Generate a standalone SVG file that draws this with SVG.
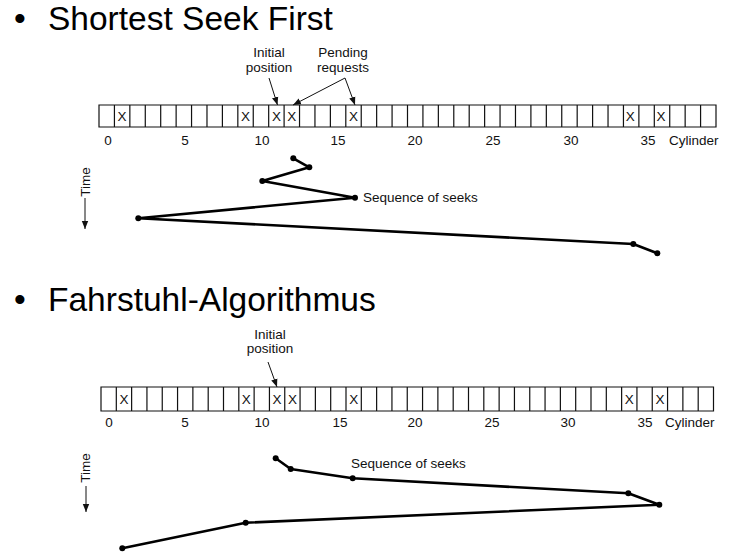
<svg xmlns="http://www.w3.org/2000/svg" width="743" height="558" viewBox="0 0 743 558">
<defs>
<style>
.title{font-family:"Liberation Sans",Arial,sans-serif;font-size:33.5px;fill:#000}
.lbl{font-family:"Liberation Sans",Arial,sans-serif;font-size:13.5px;fill:#111}
.mid{text-anchor:middle}
.cells{fill:none;stroke:#111;stroke-width:1.2}
.ptr{stroke:#111;stroke-width:1;fill:none}
.seek{stroke:#000;stroke-width:2.6;fill:none;stroke-linejoin:round;stroke-linecap:round}
.dot{fill:#000}
</style>
<marker id="ah" markerUnits="userSpaceOnUse" markerWidth="10" markerHeight="8" refX="8" refY="4" orient="auto">
<path d="M0,0.8 L8,4 L0,7.2 z" fill="#111"/>
</marker>
</defs>
<rect width="743" height="558" fill="#fff"/>

<g id="title-ssf">
<text class="title" x="14" y="30">•</text>
<text class="title" x="48" y="30">Shortest Seek First</text>
</g>

<g id="cylinders-ssf">
<path class="cells" d="M99,105H716V127H99Z M114.43,105V127 M129.85,105V127 M145.28,105V127 M160.7,105V127 M176.13,105V127 M191.55,105V127 M206.98,105V127 M222.4,105V127 M237.83,105V127 M253.25,105V127 M268.68,105V127 M284.1,105V127 M299.53,105V127 M314.95,105V127 M330.38,105V127 M345.8,105V127 M361.23,105V127 M376.65,105V127 M392.08,105V127 M407.5,105V127 M422.93,105V127 M438.35,105V127 M453.78,105V127 M469.2,105V127 M484.63,105V127 M500.05,105V127 M515.48,105V127 M530.9,105V127 M546.33,105V127 M561.75,105V127 M577.18,105V127 M592.6,105V127 M608.03,105V127 M623.45,105V127 M638.88,105V127 M654.3,105V127 M669.73,105V127 M685.15,105V127 M700.58,105V127"/>
<g class="lbl mid">
<text x="122.1" y="121">X</text>
<text x="245.5" y="121">X</text>
<text x="276.4" y="121">X</text>
<text x="291.8" y="121">X</text>
<text x="353.5" y="121">X</text>
<text x="630.2" y="121">X</text>
<text x="661" y="121">X</text>
<text x="108" y="145">0</text>
<text x="185" y="145">5</text>
<text x="262" y="145">10</text>
<text x="338" y="145">15</text>
<text x="415" y="145">20</text>
<text x="493" y="145">25</text>
<text x="571" y="145">30</text>
<text x="648" y="145">35</text>
</g>
<text class="lbl" x="669" y="145">Cylinder</text>
</g>

<g id="label-initial-ssf">
<text class="lbl mid" x="269" y="57">Initial</text>
<text class="lbl mid" x="269" y="71.5">position</text>
</g>
<g id="label-pending-ssf">
<text class="lbl mid" x="343" y="57">Pending</text>
<text class="lbl mid" x="343" y="71.5">requests</text>
</g>
<g id="label-time-ssf">
<text class="lbl mid" transform="translate(90,182) rotate(-90)">Time</text>
</g>
<g id="label-seq-ssf">
<text class="lbl" x="363" y="202">Sequence of seeks</text>
</g>

<g id="title-elevator">
<text class="title" x="14" y="311">•</text>
<text class="title" x="48" y="311">Fahrstuhl-Algorithmus</text>
</g>

<g id="cylinders-elevator">
<path class="cells" d="M101,387H713.5V411H101Z M116.31,387V411 M131.63,387V411 M146.94,387V411 M162.25,387V411 M177.56,387V411 M192.88,387V411 M208.19,387V411 M223.5,387V411 M238.81,387V411 M254.13,387V411 M269.44,387V411 M284.75,387V411 M300.06,387V411 M315.38,387V411 M330.69,387V411 M346,387V411 M361.31,387V411 M376.63,387V411 M391.94,387V411 M407.25,387V411 M422.56,387V411 M437.88,387V411 M453.19,387V411 M468.5,387V411 M483.81,387V411 M499.13,387V411 M514.44,387V411 M529.75,387V411 M545.06,387V411 M560.38,387V411 M575.69,387V411 M591,387V411 M606.31,387V411 M621.63,387V411 M636.94,387V411 M652.25,387V411 M667.56,387V411 M682.88,387V411 M698.19,387V411"/>
<g class="lbl mid">
<text x="124" y="404">X</text>
<text x="246.2" y="404">X</text>
<text x="277.1" y="404">X</text>
<text x="292.4" y="404">X</text>
<text x="353.7" y="404">X</text>
<text x="629.3" y="404">X</text>
<text x="659.9" y="404">X</text>
<text x="109" y="427">0</text>
<text x="185" y="427">5</text>
<text x="262" y="427">10</text>
<text x="340" y="427">15</text>
<text x="415" y="427">20</text>
<text x="492" y="427">25</text>
<text x="568" y="427">30</text>
<text x="645" y="427">35</text>
</g>
<text class="lbl" x="665" y="427">Cylinder</text>
</g>

<g id="label-initial-elevator">
<text class="lbl mid" x="270" y="339">Initial</text>
<text class="lbl mid" x="270" y="353">position</text>
</g>
<g id="label-time-elevator">
<text class="lbl mid" transform="translate(90,468) rotate(-90)">Time</text>
</g>
<g id="label-seq-elevator">
<text class="lbl" x="351" y="468">Sequence of seeks</text>
</g>

<g id="connectors">
<line class="ptr" x1="269" y1="78" x2="277.5" y2="105" marker-end="url(#ah)"/>
<line class="ptr" x1="345" y1="78" x2="293" y2="105" marker-end="url(#ah)"/>
<line class="ptr" x1="345" y1="78" x2="355" y2="105" marker-end="url(#ah)"/>
<line class="ptr" x1="85" y1="198" x2="85" y2="229" marker-end="url(#ah)"/>
<line class="ptr" x1="268" y1="362" x2="277" y2="387" marker-end="url(#ah)"/>
<line class="ptr" x1="86" y1="486" x2="86" y2="512" marker-end="url(#ah)"/>

<polyline class="seek" points="293.3,158.3 309.3,167.3 262.3,181 355,197.7 138.3,218.3 633.3,244 657.3,253.3"/>
<g class="dot">
<circle cx="293.3" cy="158.3" r="3"/>
<circle cx="309.3" cy="167.3" r="3"/>
<circle cx="262.3" cy="181" r="3"/>
<circle cx="355" cy="197.7" r="3"/>
<circle cx="138.3" cy="218.3" r="3"/>
<circle cx="633.3" cy="244" r="3"/>
<circle cx="657.3" cy="253.3" r="3"/>
</g>

<polyline class="seek" points="275.7,458.3 290.7,469 352.7,478.3 628.3,493.3 659.3,504.7 245.7,522.7 122.3,548.3"/>
<g class="dot">
<circle cx="275.7" cy="458.3" r="3"/>
<circle cx="290.7" cy="469" r="3"/>
<circle cx="352.7" cy="478.3" r="3"/>
<circle cx="628.3" cy="493.3" r="3"/>
<circle cx="659.3" cy="504.7" r="3"/>
<circle cx="245.7" cy="522.7" r="3"/>
<circle cx="122.3" cy="548.3" r="3"/>
</g>
</g>
</svg>
